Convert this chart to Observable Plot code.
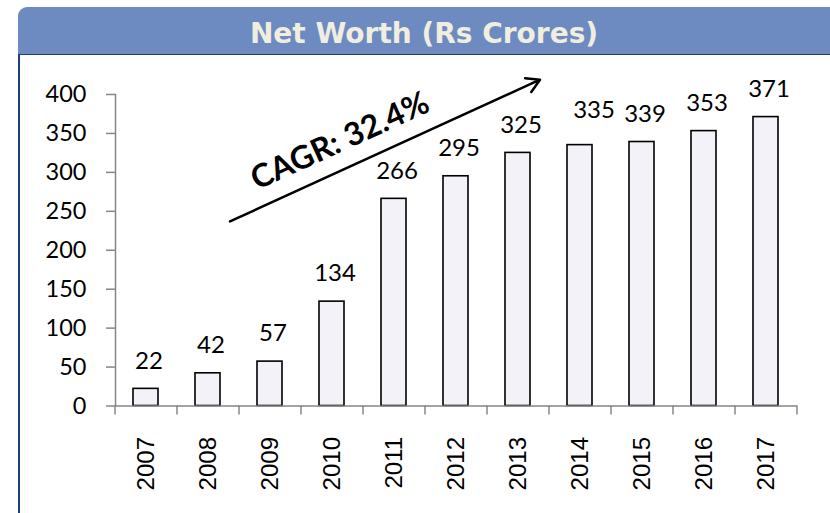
<!DOCTYPE html>
<html>
<head>
<meta charset="utf-8">
<script src="https://cdn.jsdelivr.net/npm/d3@7"></script>
<script src="https://cdn.jsdelivr.net/npm/@observablehq/plot@0.6"></script>
<style>
  body { margin: 0; background: #ffffff; }
  #wrap { position: relative; width: 830px; height: 513px; overflow: hidden; background: #fff; }
  #titlebar {
    position: absolute; left: 18px; top: 7px; width: 812px; height: 47px; overflow: hidden;
    background: #6d8bc1; border-top-left-radius: 9px;
    color: #f1eee0; font: bold 28px "DejaVu Sans", sans-serif;
    text-align: center; line-height: 53px; white-space: nowrap;
  }
  #box {
    position: absolute; left: 18px; top: 54px; width: 830px; height: 470px;
    border-left: 2px solid #1f3e78; border-top: 1px solid #1f3e78;
  }
  #chart { position: absolute; left: 0; top: 0; }
</style>
</head>
<body>
<div id="wrap">
  <div id="titlebar">Net Worth (Rs Crores)</div>
  <div id="box"></div>
  <div id="chart"></div>
</div>
<script>
const years = ["2007", "2008", "2009", "2010", "2011", "2012", "2013", "2014", "2015", "2016", "2017"];
const netWorth = [22, 42, 57, 134, 266, 295, 325, 335, 339, 353, 371];
const yTicks = [0, 50, 100, 150, 200, 250, 300, 350, 400];
const cagrLabel = "CAGR: 32.4%";
// arrow annotation anchored in data space (start/end year, start/end value)
const cagrArrow = [{x1: "2008", y1: 237, x2: "2013", y2: 419}];
const cagrText = [{x: "2010", y: 340, label: cagrLabel}];

const data = years.map((year, i) => ({year, value: netWorth[i]}));

const W = 830, H = 513, ml = 115, mr = 33, mt = 94, mb = 107.5;
const step = (W - ml - mr) / years.length;
const tickUnits = 9 * 400 / (H - mt - mb);

const plot = Plot.plot({
  width: W, height: H,
  marginLeft: ml, marginRight: mr, marginTop: mt, marginBottom: mb,
  style: {background: "transparent", overflow: "visible"},
  x: {domain: years, paddingInner: 0.59, paddingOuter: 0.295, align: 0.5},
  y: {domain: [0, 400]},
  marks: [
    Plot.barY(data, {x: "year", y: "value", fill: "#f2f2f8", stroke: "#000", strokeWidth: 1.6}),
    Plot.ruleY([0], {stroke: "#868686", strokeWidth: 1.5}),
    Plot.frame({anchor: "left", stroke: "#868686", strokeWidth: 1.5}),
    Plot.ruleX(years, {x: d => d, y1: 0, y2: -tickUnits, dx: -step / 2, stroke: "#868686", strokeWidth: 1.5}),
    Plot.ruleX(years.slice(-1), {x: d => d, y1: 0, y2: -tickUnits, dx: step / 2, stroke: "#868686", strokeWidth: 1.5}),
    Plot.axisY({ticks: yTicks, tickSize: 9, tickPadding: 20, stroke: "#868686", strokeWidth: 1.5, fill: "#000",
      fontSize: 23.5, fontFamily: "Lato", label: null}),
    Plot.axisX({tickSize: 0, tickPadding: 31, tickRotate: -90, fontSize: 24, fontFamily: "Liberation Sans",
      fill: "#000", label: null}),
    Plot.text(data.filter(d => d.year !== "2014"), {x: "year", y: "value", text: d => String(d.value),
      dy: -28, dx: 3, fontSize: 24, fontFamily: "Lato", fill: "#000"}),
    Plot.text(data.filter(d => d.year === "2014"), {x: "year", y: "value", text: d => String(d.value),
      dy: -35, dx: 14, fontSize: 24, fontFamily: "Lato", fill: "#000"}),
    Plot.arrow(cagrArrow, {x1: "x1", y1: "y1", x2: "x2", y2: "y2", dx: 22, stroke: "#000",
      strokeWidth: 2.5, headLength: 9, headAngle: 60}),
    Plot.text(cagrText, {x: "x", y: "y", text: "label", rotate: -24.5, dx: 8,
      fontSize: 32, fontWeight: "bold", fontFamily: "Lato", fill: "#000"})
  ]
});
document.getElementById("chart").appendChild(plot);
</script>
</body>
</html>
